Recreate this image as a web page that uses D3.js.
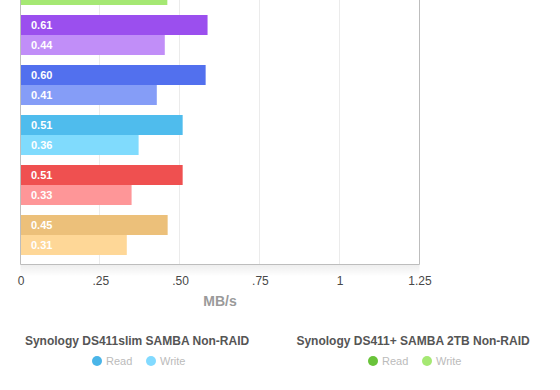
<!DOCTYPE html>
<html>
<head>
  <meta charset="utf-8">
  <title>SAMBA throughput</title>
  <script type="text/javascript" src="https://d3js.org/d3.v7.min.js"></script>
  <style>
    body { margin: 0; background: #fff; }
    text { font-family: "Liberation Sans", Arial, Helvetica, sans-serif; }
  </style>
</head>
<body>
  <div id="container"></div>
  <script type="text/javascript">
    // groups from top to bottom, the first one is cut off by the top of the picture
    var groups = ['green', 'purple', 'blue', 'cyan', 'red', 'tan'];
    var readValues  = [null, 0.586, 0.580, 0.508, 0.508, 0.461];
    var writeValues = [0.460, 0.452, 0.427, 0.370, 0.348, 0.333];
    var readLabels  = [null, '0.61', '0.60', '0.51', '0.51', '0.45'];
    var writeLabels = [null, '0.44', '0.41', '0.36', '0.33', '0.31'];
    var readColours  = ['#6cc63c', '#9b4fee', '#5270ee', '#4fbced', '#ef5050', '#ecc07a'];
    var writeColours = ['#a5e873', '#c18ef8', '#859df7', '#80dbfd', '#fe9698', '#fed797'];

    var tickValues = [0, 0.25, 0.5, 0.75, 1, 1.25];
    var tickLabels = ['0', '.25', '.50', '.75', '1', '1.25'];
    var axisTitle = 'MB/s';

    var legendTitles = ['Synology DS411slim SAMBA Non-RAID', 'Synology DS411+ SAMBA 2TB Non-RAID'];
    var legendItems = ['Read', 'Write'];
    var legendColours = [['#4ab5e8', '#82daff'], ['#69c33a', '#a5e873']];

    var width = 560, height = 390;
    var plotBottom = 264.5;

    var svg = d3.select('#container').append('svg')
      .attr('width', width)
      .attr('height', height);

    var x = d3.scaleLinear().domain([0, 1.25]).range([20.5, 419.5]);
    var y0 = d3.scaleBand().domain(groups).range([-45, 265]).paddingInner(0.2).paddingOuter(0.2);
    var y1 = d3.scaleBand().domain(['read', 'write']).range([0, y0.bandwidth()]);

    // soft shadow under the plot
    var grad = svg.append('defs').append('linearGradient')
      .attr('id', 'shade').attr('x1', 0).attr('y1', 0).attr('x2', 0).attr('y2', 1);
    grad.append('stop').attr('offset', 0).attr('stop-color', '#000').attr('stop-opacity', 0.07);
    grad.append('stop').attr('offset', 1).attr('stop-color', '#000').attr('stop-opacity', 0);
    svg.append('rect')
      .attr('x', x(0)).attr('y', plotBottom)
      .attr('width', x(1.25) - x(0)).attr('height', 12)
      .attr('fill', 'url(#shade)');

    // grid
    svg.append('g').selectAll('line')
      .data(tickValues.slice(1, -1))
      .enter().append('line')
        .attr('x1', d => Math.round(x(d)) - 0.5)
        .attr('x2', d => Math.round(x(d)) - 0.5)
        .attr('y1', 0).attr('y2', plotBottom)
        .attr('stroke', '#ebebeb');

    // bars
    var rows = [];
    groups.forEach(function(g, i) {
      rows.push({group: g, key: 'read', value: readValues[i], label: readLabels[i], colour: readColours[i]});
      rows.push({group: g, key: 'write', value: writeValues[i], label: writeLabels[i], colour: writeColours[i]});
    });
    rows = rows.filter(d => d.value != null);

    var bar = svg.append('g').selectAll('g')
      .data(rows)
      .enter().append('g')
        .attr('transform', d => `translate(0,${y0(d.group) + y1(d.key)})`);

    bar.append('rect')
      .attr('x', x(0))
      .attr('y', 0)
      .attr('width', d => x(d.value) - x(0))
      .attr('height', y1.bandwidth())
      .attr('fill', d => d.colour);

    bar.filter(d => d.label)
      .append('text')
        .attr('x', x(0) + 10.5)
        .attr('y', y1.bandwidth() / 2)
        .attr('dy', '0.36em')
        .attr('fill', '#fff')
        .style('font-size', '11px')
        .style('font-weight', 'bold')
        .text(d => d.label);

    // frame
    svg.append('path')
      .attr('d', `M${x(0)},0 V${plotBottom} H${x(1.25)} V0`)
      .attr('fill', 'none')
      .attr('stroke', '#bdbdbd');

    // x axis
    var axis = svg.append('g')
      .attr('transform', `translate(0,${plotBottom})`)
      .call(d3.axisBottom(x)
        .tickValues(tickValues)
        .tickFormat((d, i) => tickLabels[i])
        .tickSize(0)
        .tickPadding(12));
    axis.select('.domain').remove();
    axis.selectAll('text')
      .attr('fill', '#484848')
      .style('font-size', '12px')
      .style('font-family', '"Liberation Sans", Arial, sans-serif');

    svg.append('text')
      .attr('x', (x(0) + x(1.25)) / 2)
      .attr('y', 306)
      .attr('text-anchor', 'middle')
      .attr('fill', '#9a9a9a')
      .style('font-size', '14px')
      .style('font-weight', 'bold')
      .text(axisTitle);

    // legends
    var legendCentres = [137, 413];
    legendTitles.forEach(function(t, i) {
      var lg = svg.append('g').attr('transform', `translate(${legendCentres[i]},0)`);
      lg.append('text')
        .attr('y', 345)
        .attr('text-anchor', 'middle')
        .attr('fill', '#555')
        .style('font-size', '12px')
        .style('font-weight', 'bold')
        .text(t);
      var item = lg.selectAll('.item')
        .data(legendItems)
        .enter().append('g')
          .attr('class', 'item')
          .attr('transform', (d, j) => `translate(${-40 + j * 54},361)`);
      item.append('circle')
        .attr('r', 5)
        .attr('fill', (d, j) => legendColours[i][j]);
      item.append('text')
        .attr('x', 9)
        .attr('dy', '0.36em')
        .attr('fill', '#bbb')
        .style('font-size', '11px')
        .text(d => d);
    });
  </script>
</body>
</html>
